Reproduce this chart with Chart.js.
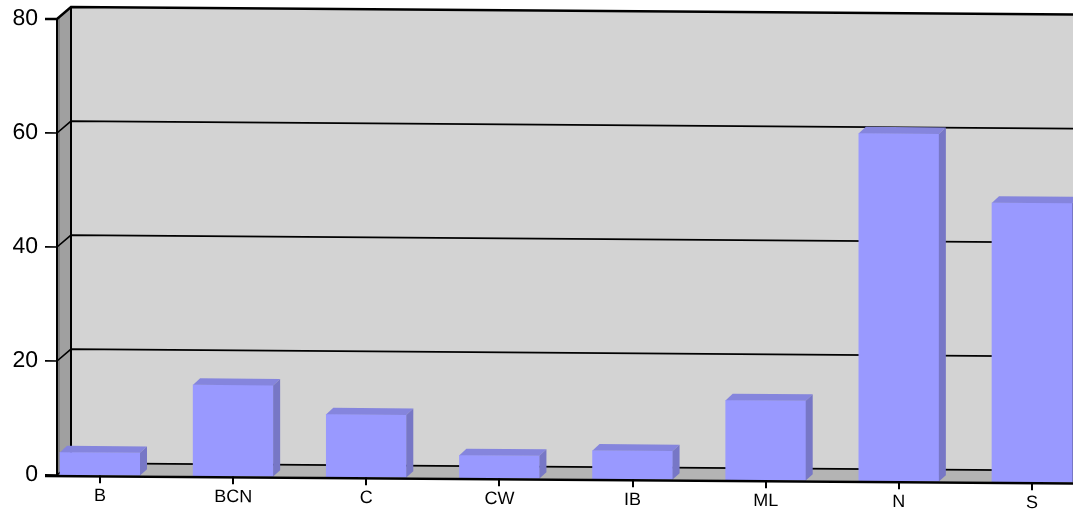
<!DOCTYPE html>
<html>
<head>
<meta charset="utf-8">
<script src="https://cdn.jsdelivr.net/npm/chart.js@4.4.0/dist/chart.umd.min.js"></script>
<style>
html, body { margin: 0; padding: 0; background: #fff; }
#wrap { width: 1073px; height: 512px; }
</style>
</head>
<body>
<div id="wrap"><canvas id="barChart"></canvas></div>
<script>
const categories = ['B', 'BCN', 'C', 'CW', 'IB', 'ML', 'N', 'S'];
const counts = [4, 16, 11, 4, 5, 14, 61, 49];
const yTicks = [0, 20, 40, 60, 80];

// fake 3d look
const DEPTH_X = 14, DEPTH_Y = 12;
const BAR_DX = 7, BAR_DY = 6.5;
const TILT = 0.0075;

const threeD = {
    id: 'threeD',
    beforeDraw(chart) {
        const ctx = chart.ctx;
        ctx.save();
        ctx.transform(1, TILT, 0, 1, 0, -TILT * chart.chartArea.left);
    },
    beforeDatasetsDraw(chart) {
        const { ctx, chartArea: a, scales: { y } } = chart;
        const L = a.left, R = a.right + 40, T = a.top, B = a.bottom;

        // back wall
        ctx.fillStyle = '#d3d3d3';
        ctx.fillRect(L + DEPTH_X, T - DEPTH_Y, R - L - DEPTH_X, B - T);

        // floor
        ctx.fillStyle = '#b4b4b4';
        ctx.beginPath();
        ctx.moveTo(L, B);
        ctx.lineTo(L + DEPTH_X, B - DEPTH_Y);
        ctx.lineTo(R, B - DEPTH_Y);
        ctx.lineTo(R, B);
        ctx.closePath();
        ctx.fill();

        // left wall
        ctx.fillStyle = '#a0a0a0';
        ctx.beginPath();
        ctx.moveTo(L, T);
        ctx.lineTo(L + DEPTH_X, T - DEPTH_Y);
        ctx.lineTo(L + DEPTH_X, B - DEPTH_Y);
        ctx.lineTo(L, B);
        ctx.closePath();
        ctx.fill();
        ctx.fillStyle = '#808080';
        ctx.fillRect(L, T - 2, 3, B - T + 2);

        // grid lines + y tick marks
        ctx.strokeStyle = '#000';
        yTicks.forEach(v => {
            const py = y.getPixelForValue(v);
            ctx.lineWidth = v === 80 ? 2.5 : 1.6;
            ctx.beginPath();
            ctx.moveTo(L - 12, py);
            ctx.lineTo(L, py);
            ctx.lineTo(L + DEPTH_X, py - DEPTH_Y);
            ctx.lineTo(R, py - DEPTH_Y);
            ctx.stroke();
        });

        // wall edges
        ctx.lineWidth = 2;
        ctx.beginPath();
        ctx.moveTo(L + DEPTH_X, T - DEPTH_Y);
        ctx.lineTo(L + DEPTH_X, B - DEPTH_Y);
        ctx.moveTo(L, T);
        ctx.lineTo(L, B);
        ctx.stroke();
    },
    afterDatasetsDraw(chart) {
        const { ctx, chartArea: a } = chart;
        chart.getDatasetMeta(0).data.forEach(bar => {
            const x0 = bar.x - bar.width / 2, x1 = bar.x + bar.width / 2;
            // top face
            ctx.fillStyle = '#8585dd';
            ctx.beginPath();
            ctx.moveTo(x0, bar.y);
            ctx.lineTo(x0 + BAR_DX, bar.y - BAR_DY);
            ctx.lineTo(x1 + BAR_DX, bar.y - BAR_DY);
            ctx.lineTo(x1, bar.y);
            ctx.closePath();
            ctx.fill();
            // side face
            ctx.fillStyle = '#7777c6';
            ctx.beginPath();
            ctx.moveTo(x1, bar.y);
            ctx.lineTo(x1 + BAR_DX, bar.y - BAR_DY);
            ctx.lineTo(x1 + BAR_DX, bar.base - BAR_DY);
            ctx.lineTo(x1, bar.base);
            ctx.closePath();
            ctx.fill();
        });

        // front bottom edge
        ctx.strokeStyle = '#000';
        ctx.lineWidth = 2.5;
        ctx.beginPath();
        ctx.moveTo(a.left - 12, a.bottom + 1);
        ctx.lineTo(a.right + 40, a.bottom + 1);
        ctx.stroke();
    },
    afterDraw(chart) {
        chart.ctx.restore();
    }
};

const ctx = document.getElementById('barChart').getContext('2d');

const barChart = new Chart(ctx, {
    type: 'bar',
    data: {
        datasets: [{
            data: categories.map((c, i) => ({ x: i, y: counts[i] })),
            backgroundColor: '#9999ff',
            borderWidth: 0,
            barThickness: 80
        }]
    },
    options: {
        responsive: true,
        maintainAspectRatio: false,
        animation: false,
        layout: { padding: { top: 19, right: 0, left: 0, bottom: 0 } },
        plugins: {
            legend: { display: false },
            tooltip: { enabled: false }
        },
        scales: {
            x: {
                type: 'linear',
                offset: false,
                min: -0.323,
                max: 7.308,
                afterBuildTicks: s => { s.ticks = categories.map((c, i) => ({ value: i })); },
                afterFit: s => { s.height = 37; s.paddingLeft = 0; s.paddingRight = 0; },
                grid: { offset: false, drawOnChartArea: false, drawTicks: true, tickLength: 8, color: '#000', lineWidth: 2 },
                border: { display: false },
                ticks: {
                    callback: v => categories[v],
                    font: { family: 'Liberation Sans, Arial, sans-serif', size: 18 },
                    color: '#000',
                    padding: 2,
                    maxRotation: 0,
                    autoSkip: false
                }
            },
            y: {
                min: 0,
                max: 80,
                afterBuildTicks: s => { s.ticks = yTicks.map(v => ({ value: v })); },
                afterFit: s => { s.width = 57; s.paddingTop = 0; s.paddingBottom = 0; },
                grid: { display: false, drawTicks: false },
                border: { display: false },
                ticks: {
                    font: { family: 'Liberation Sans, Arial, sans-serif', size: 23 },
                    color: '#000',
                    padding: 19
                }
            }
        }
    },
    plugins: [threeD]
});
</script>
</body>
</html>
